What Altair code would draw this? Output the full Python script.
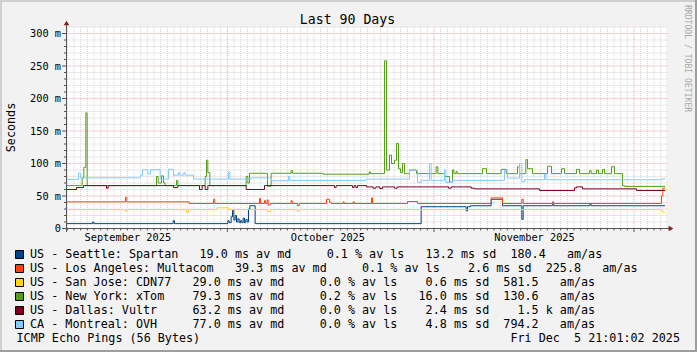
import json
import altair as alt
import pandas as pd

# ---------------- data ----------------
hosts = ["US - Seattle: Spartan", "US - Los Angeles: Multacom", "US - San Jose: CDN77",
         "US - New York: xTom", "US - Dallas: Vultr", "CA - Montreal: OVH"]
colors = ["#004586", "#ff420e", "#ffd320", "#579d1c", "#7e0021", "#83caff"]

avg_ms = [19.0, 39.3, 29.0, 79.3, 63.2, 77.0]
loss_pct = [0.1, 0.1, 0.0, 0.2, 0.0, 0.0]
sd_ms = [13.2, 2.6, 0.6, 16.0, 2.4, 4.8]
am_as = [180.4, 225.8, 581.5, 130.6, 1.5, 794.2]
am_unit = [" ", " ", " ", " ", "k", " "]

# (day since start, median rtt in ms) -- step series
seattle = [(0, 7.5), (3.9, 10), (4.1, 7.5), (16.0, 12), (16.2, 7.5), (24.2, 12), (24.4, 9), (24.7, 18),
           (24.9, 28), (25.1, 13), (25.3, 20), (25.5, 10), (25.7, 15), (25.9, 9), (26.1, 12), (26.3, 9),
           (26.5, 16), (26.7, 9), (26.9, 14), (27.1, 10), (27.3, 30), (27.5, 35), (28.3, 7.5), (53.2, 33.5),
           (59.95, 27), (60.15, 33.5), (60.6, 35), (63.7, 45), (65.4, 35), (68.3, 14), (68.5, 35),
           (72.9, 37), (73.1, 35), (78.5, 37), (78.7, 35), (89.8, 35)]
los_angeles = [(0, 41), (8.85, 48), (9.05, 41), (18.4, 38.5), (22.05, 45), (22.25, 38.5), (28.95, 46),
               (29.1, 38.5), (29.7, 43), (29.85, 38.5), (30.1, 44), (30.25, 36), (30.55, 38.5), (33.7, 43),
               (33.85, 38.5), (34.65, 35), (34.9, 38.5), (39.0, 45), (39.45, 40.5), (39.7, 38.5), (41.5, 41),
               (41.65, 38.5), (43.0, 41), (43.15, 38.5), (45.75, 47), (45.9, 38.5), (51.15, 41.5),
               (52.65, 38.5), (63.7, 47), (65.4, 38.5), (68.3, 45), (68.5, 38.5), (72.9, 41), (73.05, 38.5),
               (89.25, 50), (89.45, 62), (89.8, 62)]
san_jose = [(0, 29), (8.85, 26), (9.05, 29), (18.0, 25), (18.3, 29), (22.6, 32), (24.3, 29), (30.15, 26),
            (30.6, 29), (34.65, 26), (34.9, 29), (89.3, 27), (89.5, 24.5), (89.8, 24.5)]
new_york = [(0, 66), (2.35, 78), (2.6, 94), (2.9, 178), (3.1, 66), (13.5, 80), (13.75, 70), (14.25, 81),
            (14.55, 70), (14.8, 66), (16.5, 74), (16.7, 66), (20.8, 80), (21.0, 105), (21.2, 86), (21.5, 66),
            (26.95, 80), (27.2, 70), (27.45, 85), (30.15, 65), (30.7, 85), (33.7, 89), (33.9, 85),
            (38.5, 83.5), (45.4, 87), (45.6, 84.4), (47.7, 258), (48.0, 90), (48.45, 113), (48.75, 100),
            (49.2, 105), (49.5, 131), (49.8, 92), (50.1, 86), (50.4, 100), (50.7, 84.4), (51.45, 90),
            (52.5, 84.4), (55.45, 95), (55.7, 84.4), (56.7, 80), (57.45, 71.5), (57.9, 90), (58.1, 84.4),
            (58.45, 88), (58.6, 84.4), (62.4, 92), (63.0, 84.4), (65.2, 91), (65.95, 84.4), (67.65, 95),
            (67.95, 84.4), (68.9, 106), (69.15, 92), (69.9, 84.4), (72.15, 95.6), (72.75, 84.4),
            (74.25, 92), (74.7, 84.4), (76.5, 91), (76.95, 84.4), (78.45, 89), (78.7, 84.4), (79.5, 90),
            (79.8, 84.4), (80.4, 91), (80.7, 84.4), (81.75, 95), (82.2, 84.4), (83.4, 66), (83.7, 64.8),
            (89.8, 64.8)]
dallas = [(0, 60), (1.5, 63), (2.55, 66), (6.0, 62), (6.25, 66), (16.05, 63), (16.7, 66), (19.95, 60),
          (20.35, 66), (20.8, 60), (21.2, 66), (26.95, 60), (29.7, 66), (40.2, 63), (40.45, 66), (42.9, 63),
          (43.15, 66), (43.4, 63), (43.65, 66), (45.0, 64), (46.0, 62), (46.4, 64), (47.0, 61.5), (47.4, 64),
          (49.2, 62), (49.6, 64), (57.3, 62), (57.7, 64), (60.7, 62), (61.2, 61), (70.95, 58.5),
          (76.2, 62.5), (76.5, 64), (77.4, 61), (85.5, 58.5), (89.8, 58.5)]
montreal = [(0, 75.5), (1.8, 85), (2.1, 78), (11.1, 82), (11.4, 90.5), (12.2, 84), (12.6, 90.5),
            (14.05, 76), (15.3, 91), (16.05, 82), (16.8, 86), (17.0, 82), (17.6, 86), (17.8, 82), (19.05, 76),
            (24.3, 87), (24.5, 76), (27.7, 78), (30.7, 73.5), (33.3, 80), (33.5, 74), (44.9, 76),
            (51.45, 89.5), (52.65, 71), (53.2, 74), (54.45, 100), (54.7, 74), (56.7, 90), (56.9, 71),
            (57.9, 74), (65.7, 89), (66.15, 77.5), (67.95, 100), (68.3, 72), (68.7, 75), (71.7, 84),
            (71.9, 75), (89.25, 76.5), (89.8, 76.5)]
series = [seattle, los_angeles, san_jose, new_york, dallas, montreal]

y_ticks = [0, 50, 100, 150, 200, 250, 300]
y_tick_labels = ["0", "50 m", "100 m", "150 m", "200 m", "250 m", "300 m"]
month_label_days = [9.125, 39.125, 70.125]
month_labels = ["September 2025", "October 2025", "November 2025"]
month_start_days = [24.125, 55.125, 85.125]

title_text = "Last 90 Days"
y_title = "Seconds"
footer_left = "ICMP Echo Pings (56 Bytes)"
footer_right = "Fri Dec  5 21:01:02 2025"
watermark = "RRDTOOL / TOBI OETIKER"

# ---------------- layout helpers ----------------
W, H = 600, 201
MONO = "DejaVu Sans Mono"
NB = "\u00a0"

xscale = alt.Scale(domain=[0, 90], range=[0.5, 600.5], nice=False, zero=False)
yscale = alt.Scale(domain=[0, 310], range=[201.5, 0], nice=False, zero=False)

x_label_expr = f"{json.dumps(month_labels)}[indexof({json.dumps(month_label_days)}, datum.value)]"
y_label_expr = f"{json.dumps(y_tick_labels)}[indexof({json.dumps(y_ticks)}, datum.value)]"

xaxis = alt.Axis(values=month_label_days, labelExpr=x_label_expr, title=None, domain=False, ticks=False,
                 tickSize=0, grid=False, labelFont=MONO, labelFontSize=10.27, labelColor="#000000",
                 labelPadding=12.8, labelBaseline="alphabetic", labelFlush=False, labelOverlap=False,
                 labelBound=False)
yaxis = alt.Axis(values=y_ticks, labelExpr=y_label_expr, title=None, domain=False, ticks=False,
                 tickSize=0, grid=False, labelFont=MONO, labelFontSize=10.27, labelColor="#000000",
                 labelPadding=5.5, labelBaseline="middle", labelFlush=False, labelOverlap=False,
                 labelBound=False)


def X():
    return alt.X("day:Q", scale=xscale, axis=xaxis)


def Y():
    return alt.Y("ms:Q", scale=yscale, axis=yaxis)


layers = []

# grid
minor_h = [v for v in range(10, 311, 10) if v % 50]
major_h = list(range(50, 301, 50))
minor_v = [k + 0.125 for k in range(90) if (k + 0.125) not in month_start_days]

layers.append(alt.Chart(pd.DataFrame({"ms": minor_h})).mark_rule(color="#d4d4d4", strokeDash=[1, 1], strokeWidth=1)
              .encode(y=Y(), x=alt.value(0.5), x2=alt.value(602)))
layers.append(alt.Chart(pd.DataFrame({"day": minor_v})).mark_rule(color="#d4d4d4", strokeDash=[1, 1], strokeWidth=1)
              .encode(x=X(), y=alt.value(0), y2=alt.value(201.5)))
layers.append(alt.Chart(pd.DataFrame({"ms": major_h})).mark_rule(color="#eba3a3", strokeDash=[1, 1], strokeWidth=1)
              .encode(y=Y(), x=alt.value(0.5), x2=alt.value(602)))
layers.append(alt.Chart(pd.DataFrame({"day": month_start_days})).mark_rule(color="#eba3a3", strokeDash=[1, 1], strokeWidth=1)
              .encode(x=X(), y=alt.value(0), y2=alt.value(201.5)))

# data lines
for host, col, pts in zip(hosts, colors, series):
    df = pd.DataFrame(pts, columns=["day", "ms"])
    df["host"] = host
    layers.append(alt.Chart(df).mark_line(interpolate="step-after", strokeWidth=1, color=col)
                  .encode(x=X(), y=Y()))

# ticks
all_minor_y = [v for v in range(10, 301, 10) if v % 50]
layers.append(alt.Chart(pd.DataFrame({"ms": all_minor_y})).mark_rule(color="#555555", strokeWidth=1)
              .encode(y=Y(), x=alt.value(-2), x2=alt.value(0.5)))
layers.append(alt.Chart(pd.DataFrame({"ms": y_ticks})).mark_rule(color="#555555", strokeWidth=1)
              .encode(y=Y(), x=alt.value(-4), x2=alt.value(0.5)))
layers.append(alt.Chart(pd.DataFrame({"day": minor_v})).mark_rule(color="#555555", strokeWidth=1)
              .encode(x=X(), y=alt.value(201.5), y2=alt.value(203.5)))
layers.append(alt.Chart(pd.DataFrame({"day": month_start_days})).mark_rule(color="#555555", strokeWidth=1)
              .encode(x=X(), y=alt.value(201.5), y2=alt.value(205)))

# axis lines and arrows
one = pd.DataFrame({"k": [0]})
layers.append(alt.Chart(one).mark_rule(color="#555555", strokeWidth=1)
              .encode(x=alt.value(0.5), y=alt.value(-3), y2=alt.value(205)))
layers.append(alt.Chart(one).mark_rule(color="#555555", strokeWidth=1)
              .encode(y=alt.value(201.5), x=alt.value(-4), x2=alt.value(604)))
layers.append(alt.Chart(one).mark_point(shape="triangle-up", filled=True, size=30, color="#801f1f", opacity=1)
              .encode(x=alt.value(0.5), y=alt.value(-4)))
layers.append(alt.Chart(one).mark_point(shape="triangle-right", filled=True, size=30, color="#801f1f", opacity=1)
              .encode(x=alt.value(605), y=alt.value(201.5)))


def text_layer(txt, x, y, size, align="left", angle=0, color="#000000", baseline="alphabetic"):
    return (alt.Chart(pd.DataFrame({"t": [txt.replace(" ", NB)]}))
            .mark_text(font=MONO, fontSize=size, align=align, baseline=baseline, angle=angle, color=color)
            .encode(text="t:N", x=alt.value(x), y=alt.value(y)))


layers.append(text_layer(title_text, 281.5, -3, 13.2, align="center"))
layers.append(text_layer(y_title, -51, 100.5, 11.74, align="center", angle=270))
layers.append(text_layer(watermark, 619, -22, 8.1, align="left", angle=90, color="#a8a8a8"))

# legend
for i, (host, col) in enumerate(zip(hosts, colors)):
    line = (host.ljust(20) + f" {avg_ms[i]:6.1f} ms av md {loss_pct[i]:7.1f} % av ls"
            f" {sd_ms[i]:6.1f} ms sd {am_as[i]:6.1f} {am_unit[i]} am/as")
    layers.append(alt.Chart(one).mark_rect(color=col, stroke="#000000", strokeWidth=1)
                  .encode(x=alt.value(-50.5), x2=alt.value(-42.5), y=alt.value(223.5 + 14 * i),
                          y2=alt.value(231.5 + 14 * i)))
    layers.append(text_layer(line, -36, 231.3 + 14 * i, 11.74))

layers.append(text_layer(footer_left, -49.5, 315, 11.74))
layers.append(text_layer(footer_right, 614, 315, 11.74, align="right"))

# frame (3d border)
layers.append(alt.Chart(one).mark_rect(color="#cfcfcf").encode(
    x=alt.value(-66), x2=alt.value(631), y=alt.value(-27), y2=alt.value(-25)))
layers.append(alt.Chart(one).mark_rect(color="#cfcfcf").encode(
    x=alt.value(-66), x2=alt.value(-64), y=alt.value(-27), y2=alt.value(325)))
layers.append(alt.Chart(one).mark_rect(color="#9e9e9e").encode(
    x=alt.value(-66), x2=alt.value(631), y=alt.value(323), y2=alt.value(325)))
layers.append(alt.Chart(one).mark_rect(color="#9e9e9e").encode(
    x=alt.value(629), x2=alt.value(631), y=alt.value(-27), y2=alt.value(325)))

chart = (alt.layer(*layers)
         .properties(width=W, height=H, background="#f2f2f2",
                     autosize=alt.AutoSizeParams(type="none"),
                     padding={"left": 66, "top": 27, "right": 31, "bottom": 124})
         .configure_view(fill="#ffffff", strokeWidth=0))

chart.save("out.html", embed_options={"renderer": "svg", "actions": False})
